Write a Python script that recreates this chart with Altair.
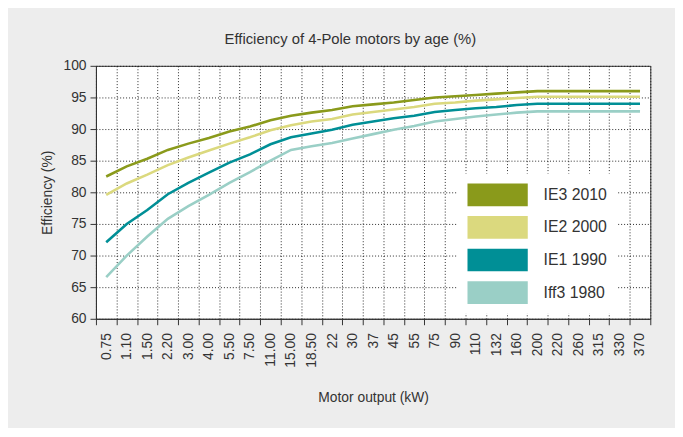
import altair as alt
import pandas as pd

kw = ["0.75", "1.10", "1.50", "2.20", "3.00", "4.00", "5.50", "7.50", "11.00",
      "15.00", "18.50", "22", "30", "37", "45", "55", "75", "90", "110", "132",
      "160", "200", "220", "260", "315", "330", "370"]

ie3_2010 = [82.5, 84.1, 85.3, 86.7, 87.7, 88.6, 89.6, 90.4, 91.4, 92.1, 92.6, 93.0,
            93.6, 93.9, 94.2, 94.6, 95.0, 95.2, 95.4, 95.6, 95.8, 96.0, 96.0, 96.0,
            96.0, 96.0, 96.0]
ie2_2000 = [79.6, 81.4, 82.8, 84.3, 85.5, 86.6, 87.7, 88.7, 89.8, 90.6, 91.2, 91.6,
            92.3, 92.7, 93.1, 93.5, 94.0, 94.2, 94.5, 94.7, 94.9, 95.1, 95.1, 95.1,
            95.1, 95.1, 95.1]
ie1_1990 = [72.1, 75.0, 77.2, 79.7, 81.5, 83.1, 84.7, 86.0, 87.6, 88.7, 89.3, 89.9,
            90.7, 91.2, 91.7, 92.1, 92.7, 93.0, 93.3, 93.5, 93.8, 94.0, 94.0, 94.0,
            94.0, 94.0, 94.0]
iff3_1980 = [66.6, 70.0, 73.0, 75.8, 77.8, 79.6, 81.5, 83.2, 85.0, 86.7, 87.3, 87.8,
             88.5, 89.2, 89.9, 90.5, 91.2, 91.6, 92.0, 92.3, 92.6, 92.8, 92.8, 92.8,
             92.8, 92.8, 92.8]

series = ["IE3 2010", "IE2 2000", "IE1 1990", "Iff3 1980"]
colors = ["#8a9a1b", "#dbd97e", "#008f96", "#9acfc6"]
values = [ie3_2010, ie2_2000, ie1_1990, iff3_1980]

rows = []
for s, vals in zip(series, values):
    for k, v in zip(kw, vals):
        rows.append({"kw": k, "eff": v, "series": s})
df = pd.DataFrame(rows)

FONT = "Liberation Sans"
TXT = "#333333"

rect_path = "M-2.652,-1H2.652V1H-2.652Z"

x_enc = alt.X(
    "kw:N", sort=kw, bandPosition=0.5,
    scale=alt.Scale(type="band", paddingInner=0, paddingOuter=0),
    axis=alt.Axis(
        title="Motor output (kW)", tickBand="extent", labelAngle=270,
        labelFontSize=14, labelColor=TXT, labelFont=FONT, labelPadding=8,
        titleFontSize=14, titleColor=TXT, titleFont=FONT, titleFontWeight="normal",
        titlePadding=24, tickSize=6, tickColor="#333", domainColor="#333",
        grid=True, gridColor="#111", gridDash=[1, 2], gridOpacity=0.9,
    ),
)
y_enc = alt.Y(
    "eff:Q",
    scale=alt.Scale(domain=[60, 100], nice=False, zero=False),
    axis=alt.Axis(
        title="Efficiency (%)", values=list(range(60, 101, 5)),
        labelFontSize=14, labelColor=TXT, labelFont=FONT, labelPadding=4,
        titleFontSize=14, titleColor=TXT, titleFont=FONT, titleFontWeight="normal",
        titlePadding=9, tickSize=6, tickColor="#333", domainColor="#333",
        grid=True, gridColor="#111", gridDash=[1, 2], gridOpacity=0.9,
    ),
)

base = alt.Chart(df)

line_layers = [
    base.transform_filter(alt.datum.series == s)
    .mark_line(strokeWidth=2.6, color=c)
    .encode(x=x_enc, y=y_enc)
    for s, c in zip(series, colors)
]

legend_layer = base.mark_point(filled=True, opacity=0).encode(
    x=x_enc, y=y_enc,
    color=alt.Color(
        "series:N", scale=alt.Scale(domain=series, range=colors),
        legend=alt.Legend(
            title=None, orient="none", legendX=366, legendY=109,
            fillColor="white", padding=10, rowPadding=10,
            symbolType=rect_path, symbolSize=529, symbolOffset=19,
            symbolStrokeWidth=0, symbolOpacity=1, labelOffset=35,
            labelFontSize=16, labelFont=FONT, labelColor=TXT,
        ),
    ),
)

chart = alt.layer(*line_layers, legend_layer).properties(
    width=561,
    height=256,
    background="#ededed",
    padding={"left": 89, "top": 56, "right": 25, "bottom": 108},
    autosize=alt.AutoSizeParams(type="none"),
    title=alt.TitleParams(
        "Efficiency of 4-Pole motors by age (%)", fontSize=15, font=FONT,
        color=TXT, fontWeight="normal", offset=12, dx=-23,
    ),
).configure_view(stroke="#333", strokeWidth=1, fill="white")

chart.save("out.html", embed_options={"renderer": "svg", "actions": False})
